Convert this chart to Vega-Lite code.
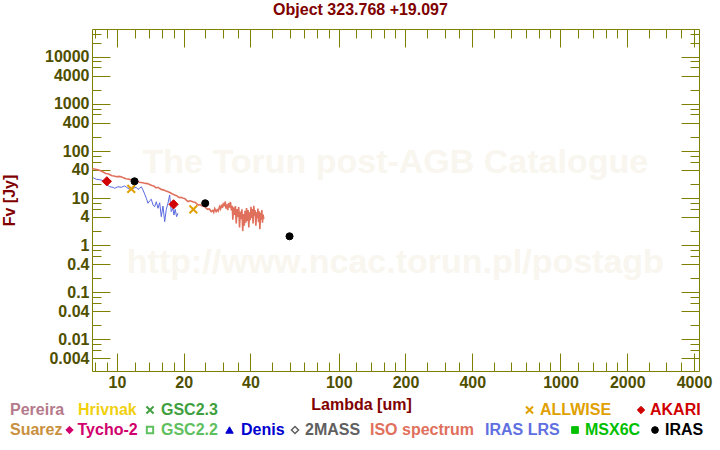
{
  "$schema": "https://vega.github.io/schema/vega-lite/v6.json",
  "width": 607,
  "height": 342,
  "autosize": {"type": "none"},
  "padding": {"left": 92, "top": 29, "right": 21, "bottom": 79},
  "background": "white",
  "title": {"text": "Object 323.768 +19.097", "color": "#800000", "font": "Liberation Sans", "fontSize": 16, "fontWeight": "bold", "anchor": "middle", "frame": "group", "dx": -35, "dy": 16, "offset": 8, "baseline": "bottom"},
  "datasets": {
    "iso": [
      {"lam": 7.75, "f": 42}, {"lam": 7.9, "f": 41.5}, {"lam": 8.1, "f": 40.5}, {"lam": 8.3, "f": 39.5}, {"lam": 8.5, "f": 37.5},
      {"lam": 8.7, "f": 35.5}, {"lam": 8.9, "f": 33.5}, {"lam": 9.1, "f": 33}, {"lam": 9.3, "f": 31.5}, {"lam": 9.5, "f": 30},
      {"lam": 9.7, "f": 29.5}, {"lam": 9.95, "f": 28.5}, {"lam": 10.2, "f": 29}, {"lam": 10.45, "f": 28.5}, {"lam": 10.7, "f": 27},
      {"lam": 10.95, "f": 25.8}, {"lam": 11.2, "f": 25.5}, {"lam": 11.5, "f": 24.8}, {"lam": 11.8, "f": 24.6}, {"lam": 12.0, "f": 24.2},
      {"lam": 12.3, "f": 23.2}, {"lam": 12.6, "f": 21.8}, {"lam": 12.9, "f": 21.5}, {"lam": 13.2, "f": 21}, {"lam": 13.5, "f": 20.6},
      {"lam": 13.8, "f": 20.2}, {"lam": 14.1, "f": 19.2}, {"lam": 14.4, "f": 18.5}, {"lam": 14.7, "f": 18}, {"lam": 15.0, "f": 16.5},
      {"lam": 15.3, "f": 17}, {"lam": 15.6, "f": 16}, {"lam": 15.9, "f": 15.2}, {"lam": 16.2, "f": 15}, {"lam": 16.5, "f": 14.4},
      {"lam": 16.8, "f": 14}, {"lam": 17.1, "f": 13.5}, {"lam": 17.4, "f": 13}, {"lam": 17.7, "f": 12.4}, {"lam": 18.0, "f": 12},
      {"lam": 18.3, "f": 11.6}, {"lam": 18.6, "f": 11.3}, {"lam": 18.9, "f": 10.6}, {"lam": 19.2, "f": 10.2}, {"lam": 19.5, "f": 10.4},
      {"lam": 19.9, "f": 10}, {"lam": 20.2, "f": 9.9}, {"lam": 20.5, "f": 9.2}, {"lam": 20.9, "f": 8.5}, {"lam": 21.3, "f": 8.8},
      {"lam": 21.7, "f": 8.6}, {"lam": 22.1, "f": 8.3}, {"lam": 22.5, "f": 8.2}, {"lam": 22.9, "f": 7.6}, {"lam": 23.3, "f": 7.1},
      {"lam": 23.7, "f": 7.3}, {"lam": 24.1, "f": 6.9}, {"lam": 24.5, "f": 6.8}, {"lam": 24.9, "f": 6.6}, {"lam": 25.3, "f": 6.1},
      {"lam": 25.7, "f": 5.8}, {"lam": 26.1, "f": 5.9}, {"lam": 26.6, "f": 5.2}, {"lam": 27.0, "f": 5.5}, {"lam": 27.3, "f": 5.0},
      {"lam": 27.6, "f": 6.0}, {"lam": 28.0, "f": 5.2}, {"lam": 28.3, "f": 5.7}, {"lam": 28.6, "f": 5.3}, {"lam": 29.0, "f": 6.6},
      {"lam": 29.3, "f": 5.9}, {"lam": 29.6, "f": 7.3}, {"lam": 29.9, "f": 6.2}, {"lam": 30.2, "f": 7.9}, {"lam": 30.5, "f": 6.7},
      {"lam": 30.8, "f": 8.5}, {"lam": 31.0, "f": 6.0}, {"lam": 31.3, "f": 7.4}, {"lam": 31.6, "f": 5.6}, {"lam": 31.9, "f": 7.9},
      {"lam": 32.2, "f": 6.3}, {"lam": 32.5, "f": 8.3}, {"lam": 32.8, "f": 5.5}, {"lam": 33.1, "f": 6.9}, {"lam": 33.3, "f": 3.5},
      {"lam": 33.6, "f": 6.4}, {"lam": 33.9, "f": 4.4}, {"lam": 34.2, "f": 6.8}, {"lam": 34.5, "f": 2.9}, {"lam": 34.8, "f": 5.9},
      {"lam": 35.1, "f": 4.0}, {"lam": 35.4, "f": 6.5}, {"lam": 35.7, "f": 2.4}, {"lam": 36.0, "f": 5.2}, {"lam": 36.3, "f": 3.6},
      {"lam": 36.6, "f": 5.8}, {"lam": 36.9, "f": 2.0}, {"lam": 37.2, "f": 4.6}, {"lam": 37.5, "f": 2.6}, {"lam": 37.8, "f": 5.4},
      {"lam": 38.1, "f": 3.0}, {"lam": 38.4, "f": 6.2}, {"lam": 38.7, "f": 3.3}, {"lam": 39.0, "f": 5.6}, {"lam": 39.3, "f": 2.4},
      {"lam": 39.6, "f": 5.0}, {"lam": 39.9, "f": 3.4}, {"lam": 40.2, "f": 6.6}, {"lam": 40.5, "f": 3.8}, {"lam": 40.8, "f": 5.9},
      {"lam": 41.1, "f": 2.9}, {"lam": 41.4, "f": 6.9}, {"lam": 41.7, "f": 4.2}, {"lam": 42.0, "f": 5.5}, {"lam": 42.3, "f": 2.6},
      {"lam": 42.6, "f": 5.0}, {"lam": 42.9, "f": 3.7}, {"lam": 43.2, "f": 6.0}, {"lam": 43.5, "f": 3.1}, {"lam": 43.8, "f": 5.3},
      {"lam": 44.1, "f": 2.2}, {"lam": 44.4, "f": 4.9}, {"lam": 44.7, "f": 3.5}, {"lam": 45.0, "f": 5.6}, {"lam": 45.3, "f": 3.0},
      {"lam": 45.6, "f": 4.5}, {"lam": 45.9, "f": 3.6}
    ],
    "lrs": [
      {"lam": 7.8, "f": 27.2}, {"lam": 8.07, "f": 25.2}, {"lam": 8.5, "f": 24.3}, {"lam": 8.8, "f": 22.4}, {"lam": 9.04, "f": 19.1},
      {"lam": 9.27, "f": 17.5}, {"lam": 9.59, "f": 17.0}, {"lam": 9.76, "f": 16.2}, {"lam": 10.1, "f": 17.5}, {"lam": 10.46, "f": 17.0},
      {"lam": 10.83, "f": 18.2}, {"lam": 11.21, "f": 16.2}, {"lam": 11.6, "f": 14.9}, {"lam": 11.81, "f": 16.2}, {"lam": 12.22, "f": 17.0},
      {"lam": 12.44, "f": 15.4}, {"lam": 12.66, "f": 16.2}, {"lam": 12.88, "f": 17.5}, {"lam": 13.1, "f": 14.9}, {"lam": 13.33, "f": 12.3},
      {"lam": 13.56, "f": 10.0}, {"lam": 13.8, "f": 7.8}, {"lam": 14.04, "f": 8.8}, {"lam": 14.28, "f": 9.5}, {"lam": 14.53, "f": 7.2},
      {"lam": 14.79, "f": 6.6}, {"lam": 15.05, "f": 8.4}, {"lam": 15.31, "f": 6.1}, {"lam": 15.58, "f": 8.0}, {"lam": 15.84, "f": 4.05},
      {"lam": 16.12, "f": 6.8}, {"lam": 16.41, "f": 3.17}, {"lam": 16.69, "f": 5.8}, {"lam": 16.98, "f": 7.8}, {"lam": 17.28, "f": 11.7},
      {"lam": 17.57, "f": 5.2}, {"lam": 17.88, "f": 6.1}, {"lam": 18.06, "f": 4.4}, {"lam": 18.31, "f": 5.8}, {"lam": 18.57, "f": 4.05},
      {"lam": 18.83, "f": 4.8}
    ],
    "allwise": [{"lam": 11.6, "f": 15.7}, {"lam": 22.1, "f": 5.8}],
    "akari": [{"lam": 9.0, "f": 22.8}, {"lam": 18.0, "f": 7.4}],
    "iras": [{"lam": 12, "f": 22.8}, {"lam": 25, "f": 7.8}, {"lam": 60, "f": 1.55}]
  },
  "layer": [
    {
      "data": {"values": [{}]},
      "mark": {"type": "text", "font": "Liberation Sans", "fontSize": 34, "fontWeight": "bold", "color": "#f8f6ee", "baseline": "alphabetic", "align": "center"},
      "encoding": {
        "x": {"datum": 180, "type": "quantitative", "scale": {"type": "log", "domain": [7.716, 4213], "nice": false},
          "axis": {"orient": "bottom",
            "values": [8,9,10,12,14,16,18,20,25,30,35,40,50,60,70,80,90,100,120,140,160,180,200,250,300,350,400,500,600,700,800,900,1000,1200,1400,1600,1800,2000,2500,3000,3500,4000],
            "tickSize": {"condition": {"test": "indexof([10,20,40,100,200,400,1000,2000,4000], datum.value) >= 0", "value": -18}, "value": -9},
            "labelExpr": "indexof([10,20,40,100,200,400,1000,2000,4000], datum.value) >= 0 ? '' + datum.value : ''",
            "labelPadding": 21, "title": "Lambda [um]", "titleX": 269, "titlePadding": -3}},
        "y": {"datum": 35, "type": "quantitative", "scale": {"type": "log", "domain": [0.00214, 39100], "nice": false},
          "axis": {"orient": "left",
            "values": [0.004,0.006,0.008,0.01,0.02,0.04,0.06,0.08,0.1,0.2,0.4,0.6,0.8,1,2,4,6,8,10,20,40,60,80,100,200,400,600,800,1000,2000,4000,6000,8000,10000,20000,30000],
            "tickSize": {"condition": {"test": "indexof([0.004,0.01,0.04,0.1,0.4,1,4,10,40,100,400,1000,4000,10000], datum.value) >= 0", "value": -18}, "value": -9},
            "labelExpr": "indexof([0.004,0.01,0.04,0.1,0.4,1,4,10,40,100,400,1000,4000,10000], datum.value) >= 0 ? '' + datum.value : ''",
            "labelPadding": 21, "title": "Fv [Jy]", "titlePadding": 27}},
        "text": {"value": "The Torun post-AGB Catalogue"}
      }
    },
    {
      "data": {"values": [{}]},
      "mark": {"type": "text", "font": "Liberation Sans", "fontSize": 34, "fontWeight": "bold", "color": "#f8f6ee", "baseline": "alphabetic", "align": "center"},
      "encoding": {
        "x": {"datum": 180, "type": "quantitative", "axis": null},
        "y": {"datum": 0.258, "type": "quantitative", "axis": null},
        "text": {"value": "http://www.ncac.torun.pl/postagb"}
      }
    },
    {
      "data": {"name": "iso"},
      "mark": {"type": "line", "color": "#e0705c", "strokeWidth": 1.6},
      "encoding": {
        "x": {"field": "lam", "type": "quantitative",
          "axis": {"orient": "top", "labels": false, "title": null,
            "values": [8,9,10,12,14,16,18,20,25,30,35,40,50,60,70,80,90,100,120,140,160,180,200,250,300,350,400,500,600,700,800,900,1000,1200,1400,1600,1800,2000,2500,3000,3500,4000],
            "tickSize": {"condition": {"test": "indexof([10,20,40,100,200,400,1000,2000,4000], datum.value) >= 0", "value": -18}, "value": -9}}},
        "y": {"field": "f", "type": "quantitative",
          "axis": {"orient": "right", "labels": false, "title": null,
            "values": [0.004,0.006,0.008,0.01,0.02,0.04,0.06,0.08,0.1,0.2,0.4,0.6,0.8,1,2,4,6,8,10,20,40,60,80,100,200,400,600,800,1000,2000,4000,6000,8000,10000,20000,30000],
            "tickSize": {"condition": {"test": "indexof([0.004,0.01,0.04,0.1,0.4,1,4,10,40,100,400,1000,4000,10000], datum.value) >= 0", "value": -18}, "value": -9}}}
      }
    },
    {
      "data": {"name": "lrs"},
      "mark": {"type": "line", "color": "#5a6ae0", "strokeWidth": 1},
      "encoding": {
        "x": {"field": "lam", "type": "quantitative", "axis": null},
        "y": {"field": "f", "type": "quantitative", "axis": null}
      }
    },
    {
      "data": {"name": "allwise"},
      "mark": {"type": "point", "shape": "M-1,-1L1,1M-1,1L1,-1", "filled": false, "stroke": "#e0a000", "strokeWidth": 2, "size": 60, "opacity": 1},
      "encoding": {
        "x": {"field": "lam", "type": "quantitative", "axis": null},
        "y": {"field": "f", "type": "quantitative", "axis": null}
      }
    },
    {
      "data": {"name": "akari"},
      "mark": {"type": "point", "shape": "diamond", "filled": true, "color": "#d00000", "stroke": "#d00000", "strokeWidth": 1, "size": 85, "opacity": 1},
      "encoding": {
        "x": {"field": "lam", "type": "quantitative", "axis": null},
        "y": {"field": "f", "type": "quantitative", "axis": null}
      }
    },
    {
      "data": {"name": "iras"},
      "mark": {"type": "point", "shape": "circle", "filled": true, "color": "#000000", "stroke": "#000000", "strokeWidth": 1, "size": 50, "opacity": 1},
      "encoding": {
        "x": {"field": "lam", "type": "quantitative", "axis": null},
        "y": {"field": "f", "type": "quantitative", "axis": null}
      }
    },
    {
      "data": {"values": []}, "mark": {"type": "point", "filled": true, "opacity": 1},
      "encoding": {"fill": {"field": "k", "type": "nominal", "scale": {"domain": ["Pereira"], "range": ["transparent"]},
        "legend": {"orient": "none", "legendX": -98, "legendY": 373, "title": null, "padding": 0, "symbolSize": 0, "symbolStrokeWidth": 0, "labelOffset": 0, "labelFont": "Liberation Sans", "labelFontSize": 16, "labelFontWeight": "bold", "labelColor": "#b47a8c"}}}
    },
    {
      "data": {"values": []}, "mark": {"type": "point", "filled": true, "opacity": 1},
      "encoding": {"fill": {"field": "k", "type": "nominal", "scale": {"domain": ["Hrivnak"], "range": ["transparent"]},
        "legend": {"orient": "none", "legendX": -30, "legendY": 373, "title": null, "padding": 0, "symbolSize": 0, "symbolStrokeWidth": 0, "labelOffset": 0, "labelFont": "Liberation Sans", "labelFontSize": 16, "labelFontWeight": "bold", "labelColor": "#f0d010"}}}
    },
    {
      "data": {"values": []}, "mark": {"type": "point", "filled": true, "opacity": 1},
      "encoding": {
        "fill": {"field": "k", "type": "nominal", "scale": {"domain": ["GSC2.3"], "range": ["transparent"]},
          "legend": {"orient": "none", "legendX": 50, "legendY": 373, "title": null, "padding": 0, "symbolSize": 50, "symbolStrokeWidth": 2, "labelOffset": 3, "labelFont": "Liberation Sans", "labelFontSize": 16, "labelFontWeight": "bold", "labelColor": "#40a040"}},
        "stroke": {"field": "k", "type": "nominal", "scale": {"domain": ["GSC2.3"], "range": ["#40a040"]}},
        "shape": {"field": "k", "type": "nominal", "scale": {"domain": ["GSC2.3"], "range": ["M-1,-1L1,1M-1,1L1,-1"]}}
      }
    },
    {
      "data": {"values": []}, "mark": {"type": "point", "filled": true, "opacity": 1},
      "encoding": {
        "fill": {"field": "k", "type": "nominal", "scale": {"domain": ["ALLWISE"], "range": ["transparent"]},
          "legend": {"orient": "none", "legendX": 429.5, "legendY": 373, "title": null, "padding": 0, "symbolSize": 50, "symbolStrokeWidth": 2, "labelOffset": 2.5, "labelFont": "Liberation Sans", "labelFontSize": 16, "labelFontWeight": "bold", "labelColor": "#e0a000"}},
        "stroke": {"field": "k", "type": "nominal", "scale": {"domain": ["ALLWISE"], "range": ["#e0a000"]}},
        "shape": {"field": "k", "type": "nominal", "scale": {"domain": ["ALLWISE"], "range": ["M-1,-1L1,1M-1,1L1,-1"]}}
      }
    },
    {
      "data": {"values": []}, "mark": {"type": "point", "filled": true, "opacity": 1},
      "encoding": {
        "fill": {"field": "k", "type": "nominal", "scale": {"domain": ["AKARI"], "range": ["#d00000"]},
          "legend": {"orient": "none", "legendX": 541, "legendY": 373, "title": null, "padding": 0, "symbolSize": 55, "symbolStrokeWidth": 1, "labelOffset": 1, "labelFont": "Liberation Sans", "labelFontSize": 16, "labelFontWeight": "bold", "labelColor": "#d00000"}},
        "stroke": {"field": "k", "type": "nominal", "scale": {"domain": ["AKARI"], "range": ["#d00000"]}},
        "shape": {"field": "k", "type": "nominal", "scale": {"domain": ["AKARI"], "range": ["diamond"]}}
      }
    },
    {
      "data": {"values": []}, "mark": {"type": "point", "filled": true, "opacity": 1},
      "encoding": {"fill": {"field": "k", "type": "nominal", "scale": {"domain": ["Suarez"], "range": ["transparent"]},
        "legend": {"orient": "none", "legendX": -98, "legendY": 393, "title": null, "padding": 0, "symbolSize": 0, "symbolStrokeWidth": 0, "labelOffset": 0, "labelFont": "Liberation Sans", "labelFontSize": 16, "labelFontWeight": "bold", "labelColor": "#c89040"}}}
    },
    {
      "data": {"values": []}, "mark": {"type": "point", "filled": true, "opacity": 1},
      "encoding": {
        "fill": {"field": "k", "type": "nominal", "scale": {"domain": ["Tycho-2"], "range": ["#d0006c"]},
          "legend": {"orient": "none", "legendX": -30.5, "legendY": 393, "title": null, "padding": 0, "symbolSize": 55, "symbolStrokeWidth": 1, "labelOffset": 0, "labelFont": "Liberation Sans", "labelFontSize": 16, "labelFontWeight": "bold", "labelColor": "#d0006c"}},
        "stroke": {"field": "k", "type": "nominal", "scale": {"domain": ["Tycho-2"], "range": ["#d0006c"]}},
        "shape": {"field": "k", "type": "nominal", "scale": {"domain": ["Tycho-2"], "range": ["diamond"]}}
      }
    },
    {
      "data": {"values": []}, "mark": {"type": "point", "filled": true, "opacity": 1},
      "encoding": {
        "fill": {"field": "k", "type": "nominal", "scale": {"domain": ["GSC2.2"], "range": ["transparent"]},
          "legend": {"orient": "none", "legendX": 50, "legendY": 393, "title": null, "padding": 0, "symbolSize": 40, "symbolStrokeWidth": 2, "labelOffset": 3, "labelFont": "Liberation Sans", "labelFontSize": 16, "labelFontWeight": "bold", "labelColor": "#60c060"}},
        "stroke": {"field": "k", "type": "nominal", "scale": {"domain": ["GSC2.2"], "range": ["#60c060"]}},
        "shape": {"field": "k", "type": "nominal", "scale": {"domain": ["GSC2.2"], "range": ["square"]}}
      }
    },
    {
      "data": {"values": []}, "mark": {"type": "point", "filled": true, "opacity": 1},
      "encoding": {
        "fill": {"field": "k", "type": "nominal", "scale": {"domain": ["Denis"], "range": ["#0000d0"]},
          "legend": {"orient": "none", "legendX": 129.5, "legendY": 393, "title": null, "padding": 0, "symbolSize": 55, "symbolStrokeWidth": 1, "labelOffset": 3.5, "labelFont": "Liberation Sans", "labelFontSize": 16, "labelFontWeight": "bold", "labelColor": "#0000d0"}},
        "stroke": {"field": "k", "type": "nominal", "scale": {"domain": ["Denis"], "range": ["#0000d0"]}},
        "shape": {"field": "k", "type": "nominal", "scale": {"domain": ["Denis"], "range": ["triangle-up"]}}
      }
    },
    {
      "data": {"values": []}, "mark": {"type": "point", "filled": true, "opacity": 1},
      "encoding": {
        "fill": {"field": "k", "type": "nominal", "scale": {"domain": ["2MASS"], "range": ["transparent"]},
          "legend": {"orient": "none", "legendX": 195, "legendY": 393, "title": null, "padding": 0, "symbolSize": 50, "symbolStrokeWidth": 1.5, "labelOffset": 2, "labelFont": "Liberation Sans", "labelFontSize": 16, "labelFontWeight": "bold", "labelColor": "#606060"}},
        "stroke": {"field": "k", "type": "nominal", "scale": {"domain": ["2MASS"], "range": ["#606060"]}},
        "shape": {"field": "k", "type": "nominal", "scale": {"domain": ["2MASS"], "range": ["diamond"]}}
      }
    },
    {
      "data": {"values": []}, "mark": {"type": "point", "filled": true, "opacity": 1},
      "encoding": {"fill": {"field": "k", "type": "nominal", "scale": {"domain": ["ISO spectrum"], "range": ["transparent"]},
        "legend": {"orient": "none", "legendX": 262, "legendY": 393, "title": null, "padding": 0, "symbolSize": 0, "symbolStrokeWidth": 0, "labelOffset": 0, "labelFont": "Liberation Sans", "labelFontSize": 16, "labelFontWeight": "bold", "labelColor": "#e0705c"}}}
    },
    {
      "data": {"values": []}, "mark": {"type": "point", "filled": true, "opacity": 1},
      "encoding": {"fill": {"field": "k", "type": "nominal", "scale": {"domain": ["IRAS LRS"], "range": ["transparent"]},
        "legend": {"orient": "none", "legendX": 377, "legendY": 393, "title": null, "padding": 0, "symbolSize": 0, "symbolStrokeWidth": 0, "labelOffset": 0, "labelFont": "Liberation Sans", "labelFontSize": 16, "labelFontWeight": "bold", "labelColor": "#6070e0"}}}
    },
    {
      "data": {"values": []}, "mark": {"type": "point", "filled": true, "opacity": 1},
      "encoding": {
        "fill": {"field": "k", "type": "nominal", "scale": {"domain": ["MSX6C"], "range": ["#00c000"]},
          "legend": {"orient": "none", "legendX": 475, "legendY": 393, "title": null, "padding": 0, "symbolSize": 45, "symbolStrokeWidth": 1, "labelOffset": 2, "labelFont": "Liberation Sans", "labelFontSize": 16, "labelFontWeight": "bold", "labelColor": "#00c000"}},
        "stroke": {"field": "k", "type": "nominal", "scale": {"domain": ["MSX6C"], "range": ["#00c000"]}},
        "shape": {"field": "k", "type": "nominal", "scale": {"domain": ["MSX6C"], "range": ["square"]}}
      }
    },
    {
      "data": {"values": []}, "mark": {"type": "point", "filled": true, "opacity": 1},
      "encoding": {
        "fill": {"field": "k", "type": "nominal", "scale": {"domain": ["IRAS"], "range": ["#000000"]},
          "legend": {"orient": "none", "legendX": 555, "legendY": 393, "title": null, "padding": 0, "symbolSize": 45, "symbolStrokeWidth": 1, "labelOffset": 2, "labelFont": "Liberation Sans", "labelFontSize": 16, "labelFontWeight": "bold", "labelColor": "#000000"}},
        "stroke": {"field": "k", "type": "nominal", "scale": {"domain": ["IRAS"], "range": ["#000000"]}},
        "shape": {"field": "k", "type": "nominal", "scale": {"domain": ["IRAS"], "range": ["circle"]}}
      }
    }
  ],
  "resolve": {
    "scale": {"fill": "independent", "stroke": "independent", "shape": "independent"},
    "axis": {"x": "independent", "y": "independent"}
  },
  "config": {
    "view": {"stroke": null},
    "axis": {
      "grid": false,
      "domainColor": "#808000", "domainWidth": 1,
      "tickColor": "#808000", "tickWidth": 1,
      "labelColor": "#4f4f00", "labelFont": "Liberation Sans", "labelFontSize": 16, "labelFontWeight": "bold",
      "labelOverlap": false, "labelFlush": false, "labelBound": false,
      "titleColor": "#800000", "titleFont": "Liberation Sans", "titleFontSize": 16, "titleFontWeight": "bold"
    }
  }
}
